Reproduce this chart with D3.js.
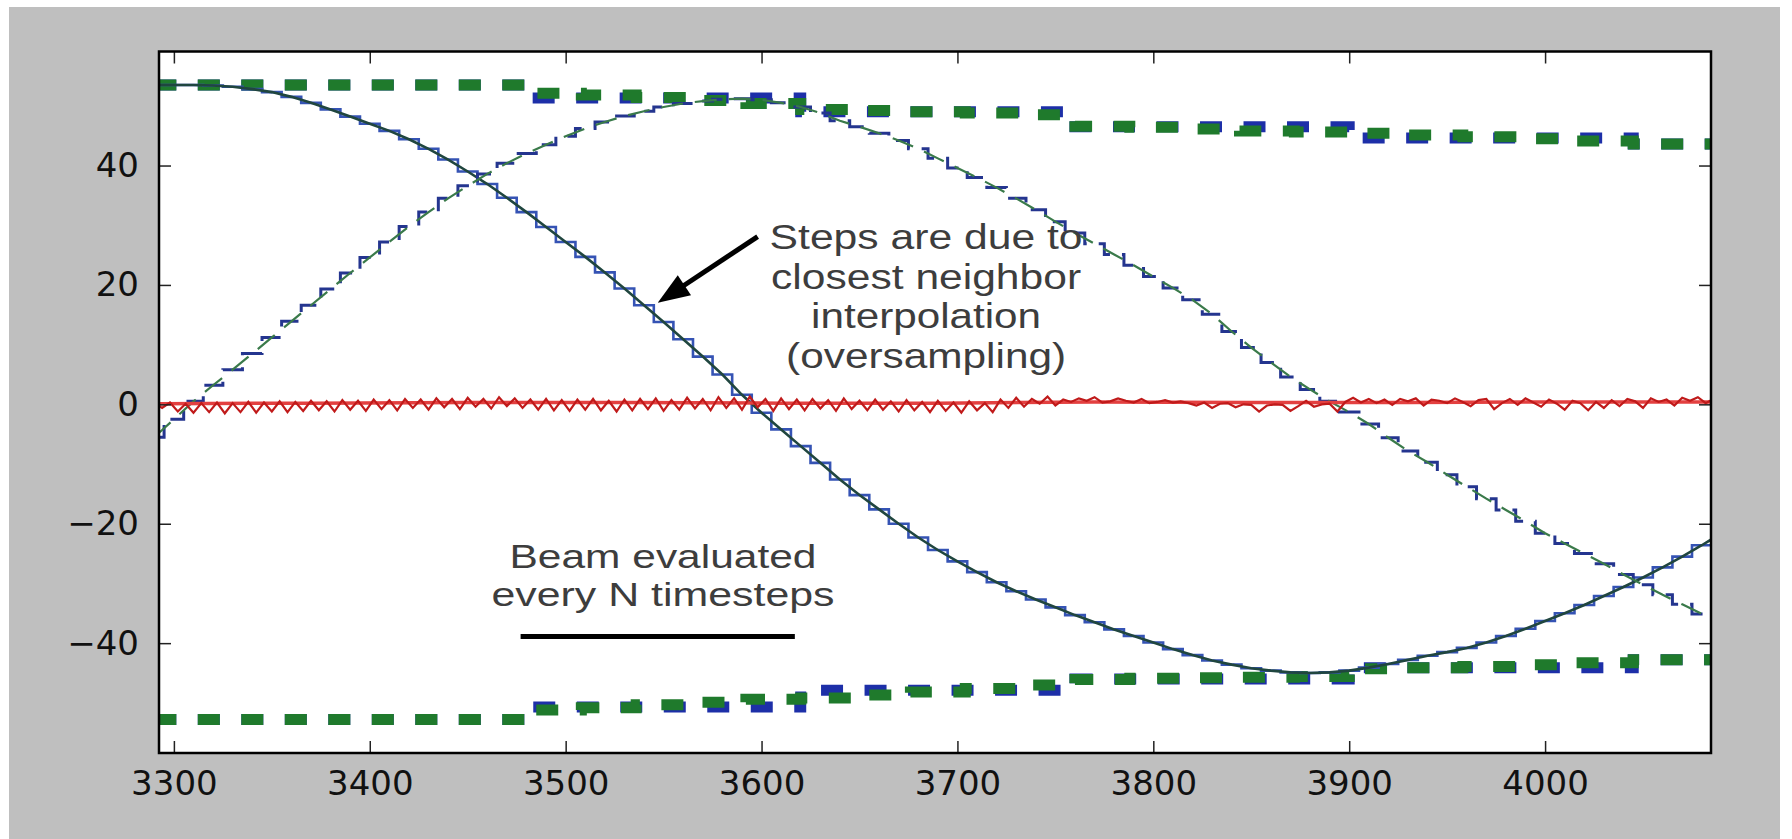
<!DOCTYPE html>
<html>
<head>
<meta charset="utf-8">
<script src="https://cdn.jsdelivr.net/npm/d3@7"></script>
<style>
  html, body { margin: 0; padding: 0; background: #ffffff; }
  svg { display: block; }
</style>
</head>
<body>
<svg id="chart" width="1792" height="839"></svg>
<script>
// ---------------------------------------------------------------
// Beam steering angle (degrees) versus timestep
// ---------------------------------------------------------------

// Timesteps of the fine tracks (every 10 steps)
const trackTime = [
  3290, 3300, 3310, 3320, 3330, 3340, 3350, 3360, 3370, 3380,
  3390, 3400, 3410, 3420, 3430, 3440, 3450, 3460, 3470, 3480,
  3490, 3500, 3510, 3520, 3530, 3540, 3550, 3560, 3570, 3580,
  3590, 3600, 3610, 3620, 3630, 3640, 3650, 3660, 3670, 3680,
  3690, 3700, 3710, 3720, 3730, 3740, 3750, 3760, 3770, 3780,
  3790, 3800, 3810, 3820, 3830, 3840, 3850, 3860, 3870, 3880,
  3890, 3900, 3910, 3920, 3930, 3940, 3950, 3960, 3970, 3980,
  3990, 4000, 4010, 4020, 4030, 4040, 4050, 4060, 4070, 4080, 4090
];

// Source A direction (solid)
const sourceA = [
  53.5, 53.5, 53.5, 53.4, 53.2, 52.8, 52.3, 51.5, 50.5, 49.4,
  48.2, 47.0, 45.8, 44.4, 42.8, 41.0, 39.0, 36.9, 34.6, 32.2,
  29.7, 27.2, 24.7, 22.1, 19.4, 16.6, 13.8, 10.9, 8.0, 5.0,
  1.6, -1.4, -4.2, -7.0, -9.8, -12.6, -15.2, -17.6, -20.0, -22.3,
  -24.4, -26.3, -28.1, -29.8, -31.3, -32.7, -34.0, -35.3, -36.5, -37.7,
  -38.8, -39.9, -41.0, -42.0, -42.9, -43.6, -44.2, -44.6, -44.9, -45.0,
  -44.9, -44.6, -44.1, -43.5, -42.8, -42.1, -41.5, -40.8, -39.9, -38.8,
  -37.6, -36.3, -35.0, -33.6, -32.1, -30.6, -29.0, -27.3, -25.5, -23.6, -21.6
];

// Source B direction (thin dashed)
const sourceB = [
  -5.5, -2.5, 0.5, 3.2, 5.8, 8.5, 11.2, 13.9, 16.6, 19.3,
  22.0, 24.6, 27.2, 29.8, 32.2, 34.5, 36.6, 38.6, 40.4, 42.0,
  43.5, 44.9, 46.2, 47.3, 48.3, 49.1, 49.8, 50.4, 50.8, 51.1,
  51.2, 51.0, 50.5, 49.8, 48.8, 47.5, 46.5, 45.4, 44.2, 42.8,
  41.2, 39.6, 38.0, 36.3, 34.5, 32.6, 30.6, 28.7, 26.9, 25.1,
  23.3, 21.4, 19.5, 17.5, 15.1, 12.2, 9.5, 7.0, 4.6, 2.5,
  0.5, -1.3, -3.3, -5.6, -7.8, -9.7, -11.8, -13.8, -15.8, -17.7,
  -19.6, -21.6, -23.3, -25.0, -26.7, -28.5, -30.2, -31.9, -33.5, -35.1, -36.7
];

// Beam edges, held between beam evaluations (every N timesteps)
const beamTime  = [3290, 3480, 3620, 3760, 3900, 4045, 4100];
const upperHeld = [53.5, 51.3, 49.0, 46.5, 44.6, 43.6, 43.6];
const lowerHeld = [-52.8, -50.7, -47.9, -46.0, -44.1, -42.8, -42.8];

// Beam edges, updated in sub-steps
const subTime = [
  3290, 3480, 3508, 3536, 3564, 3592, 3620, 3648, 3676, 3704, 3732,
  3760, 3788, 3816, 3844, 3872, 3900, 3929, 3958, 3987, 4016, 4045, 4100
];
const upperSub = [
  53.5, 52.1, 51.8, 51.4, 50.9, 50.4, 49.4, 49.2, 49.0, 48.8, 48.5,
  46.6, 46.4, 46.1, 45.8, 45.6, 45.4, 45.1, 44.8, 44.5, 44.1, 43.6, 43.6
];
const lowerSub = [
  -52.8, -51.2, -50.8, -50.3, -49.9, -49.4, -49.2, -48.7, -48.2, -47.6, -47.0,
  -46.1, -45.9, -45.8, -45.7, -45.6, -44.3, -44.1, -43.9, -43.6, -43.3, -42.8, -42.8
];

// Tracking error (every 4 steps, from 3290)
const errStart = 3290, errStep = 4;
const trackError = [
  0.2, -0.6, 0.3, -1.2, 0.1, -1.4, 0.2, -1.3, 0.3, -1.5,
  0.2, -1.3, 0.4, -1.4, 0.3, -1.2, 0.5, -1.3, 0.4, -1.1,
  0.6, -1.0, 0.5, -1.2, 0.7, -0.9, 0.6, -1.1, 0.8, -0.8,
  0.7, -1.0, 0.9, -0.6, 0.8, -0.9, 1.0, -0.5, 0.9, -0.8,
  1.1, -0.4, 0.9, -0.7, 1.2, -0.3, 1.0, -0.6, 0.8, -0.9,
  0.9, -1.0, 0.7, -1.1, 0.8, -0.9, 0.9, -1.0, 0.6, -1.2,
  0.8, -1.0, 0.9, -0.8, 1.0, -1.1, 0.7, -0.9, 1.1, -0.7,
  0.9, -1.0, 1.2, -0.6, 1.0, -0.9, 1.3, -0.5, 0.9, -1.1,
  1.0, -0.8, 0.8, -1.0, 0.9, -0.7, 0.7, -1.1, 1.0, -0.8,
  0.6, -1.0, 0.8, -0.9, 0.5, -1.2, 0.7, -1.0, 0.4, -1.3,
  0.6, -1.1, 0.3, -1.4, 0.5, -1.0, 0.2, -1.3, 0.8, -0.6,
  1.1, -0.4, 0.9, 0.1, 1.3, -0.2, 0.8, 0.4, 1.0, 0.6,
  1.2, 0.3, 0.5, 1.0, 0.6, 0.3, 0.9, 0.2, 0.4, 0.7,
  0.3, 0.5, 0.2, -0.2, 0.3, -0.6, 0.1, 0.2, -0.5, 0.0,
  -0.1, -1.2, -0.2, 0.0, -0.1, -1.1, -0.3, 0.6, -0.4, 0.0,
  0.1, -1.2, 0.4, 1.1, 0.3, 0.9, 0.2, 0.8, -0.1, 0.9,
  0.5, 1.0, -0.2, 0.8, 0.6, 0.2, 1.0, 0.4, -0.3, 0.7,
  0.9, -0.8, 0.2, 0.9, -0.1, 1.0, 0.3, -0.4, 0.8, 0.1,
  -0.9, 0.6, 0.2, -1.0, 0.4, -0.6, 0.7, -0.3, 0.9, 0.5,
  -0.6, 1.0, 0.4, 0.8, -0.2, 1.1, 0.6, 1.2, 0.2, 0.9,
  0.4
];
// Smoothed error
const smoothErrTime = [3290, 3370, 3450, 3530, 3610, 3690, 3770, 3850, 3930, 4010, 4090];
const smoothErr     = [0.1, 0.2, 0.3, 0.3, 0.2, 0.2, 0.4, 0.3, 0.3, 0.4, 0.4];

// Axis ticks
const xTicks = [3300, 3400, 3500, 3600, 3700, 3800, 3900, 4000];
const xTickLabels = ["3300", "3400", "3500", "3600", "3700", "3800", "3900", "4000"];
const yTicks = [-40, -20, 0, 20, 40];
const yTickLabels = ["\u221240", "\u221220", "0", "20", "40"];

// Annotations
const noteSteps = ["Steps are due to", "closest neighbor", "interpolation", "(oversampling)"];
const noteBeam = ["Beam evaluated", "every N timesteps"];
const beamPeriod = [3477, 3617];   // one evaluation interval (N timesteps)
const beamPeriodLevel = -38.9;
const arrowTip = [3547, 17.0];
const arrowTail = [3598, 28.1];
const noteStepsAt = [3684, 26.0];
const noteBeamAt = [3549.7, -27.4];

// ---------------------------------------------------------------
const W = 1792, H = 839;
const plot = { left: 159, right: 1711, top: 51.5, bottom: 753 };

const x = d3.scaleLinear().domain([3292.4, 4084.7]).range([plot.left, plot.right]);
const y = d3.scaleLinear().domain([-58.4, 59.1]).range([plot.bottom, plot.top]);

const svg = d3.select("#chart");

// figure background
svg.append("rect").attr("x", 9).attr("y", 7).attr("width", 1771).attr("height", H - 7)
  .attr("fill", "#bfbfbf");
// axes background
svg.append("rect").attr("x", plot.left).attr("y", plot.top)
  .attr("width", plot.right - plot.left).attr("height", plot.bottom - plot.top)
  .attr("fill", "#ffffff");

svg.append("clipPath").attr("id", "plotClip")
  .append("rect").attr("x", plot.left).attr("y", plot.top)
  .attr("width", plot.right - plot.left).attr("height", plot.bottom - plot.top);

const g = svg.append("g").attr("clip-path", "url(#plotClip)");

const zip = (ts, vs) => ts.map((t, i) => [t, vs[i]]);
const lineLinear = d3.line().x(d => x(d[0])).y(d => y(d[1]));
const lineStepAfter = d3.line().x(d => x(d[0])).y(d => y(d[1])).curve(d3.curveStepAfter);
const lineNearest = d3.line().x(d => x(d[0])).y(d => y(d[1])).curve(d3.curveStep);

function draw(path, data, color, width, dash) {
  const p = g.append("path").attr("d", path(data))
    .attr("fill", "none").attr("stroke", color).attr("stroke-width", width)
    .attr("stroke-linejoin", "miter").attr("stroke-linecap", "butt");
  if (dash) p.attr("stroke-dasharray", dash);
  return p;
}

const colBlue = "#1d2fa8", colGreen = "#1f7a2c";
const thickDash = "22 21.5";
const thinDash = "22 12";

// beam edges
draw(lineStepAfter, zip(beamTime, upperHeld), colBlue, 11, thickDash);
draw(lineStepAfter, zip(beamTime, lowerHeld), colBlue, 11, thickDash);
draw(lineStepAfter, zip(subTime, upperSub), colGreen, 11, thickDash);
draw(lineStepAfter, zip(subTime, lowerSub), colGreen, 11, thickDash);

// source A: nearest-neighbour beam and its smooth track
draw(lineNearest, zip(trackTime, sourceA), "#3553b4", 2.6);
draw(lineLinear, zip(trackTime, sourceA), "#20463f", 2.6);

// source B: nearest-neighbour beam and its smooth track
draw(lineNearest, zip(trackTime, sourceB), "#24358f", 3, thinDash);
draw(lineLinear, zip(trackTime, sourceB), "#3a7a4a", 2.2, thinDash);

// tracking error
draw(lineLinear, zip(smoothErrTime, smoothErr), "#e34040", 3.5);
draw(lineLinear, trackError.map((v, i) => [errStart + i * errStep, v]), "#c01a1a", 2.2);

// ---- axes ----
const tickFont = "'DejaVu Sans', 'Noto Sans', sans-serif";
const xAxisB = d3.axisBottom(x).tickValues(xTicks).tickFormat((d, i) => xTickLabels[i])
  .tickSizeInner(-12).tickSizeOuter(0).tickPadding(18);
const xAxisT = d3.axisTop(x).tickValues(xTicks).tickFormat("")
  .tickSizeInner(-12).tickSizeOuter(0);
const yAxisL = d3.axisLeft(y).tickValues(yTicks).tickFormat((d, i) => yTickLabels[i])
  .tickSizeInner(-12).tickSizeOuter(0).tickPadding(20);
const yAxisR = d3.axisRight(y).tickValues(yTicks).tickFormat("")
  .tickSizeInner(-12).tickSizeOuter(0);

function styleAxis(sel) {
  sel.select(".domain").remove();
  sel.selectAll(".tick line").attr("stroke", "#222").attr("stroke-width", 1.5);
  sel.selectAll(".tick text").attr("fill", "#111")
    .style("font-family", tickFont).style("font-size", "34px");
}
svg.append("g").attr("transform", `translate(0,${plot.bottom})`).call(xAxisB).call(styleAxis);
svg.append("g").attr("transform", `translate(0,${plot.top})`).call(xAxisT).call(styleAxis);
svg.append("g").attr("transform", `translate(${plot.left},0)`).call(yAxisL).call(styleAxis);
svg.append("g").attr("transform", `translate(${plot.right},0)`).call(yAxisR).call(styleAxis);

// frame
svg.append("rect").attr("x", plot.left).attr("y", plot.top)
  .attr("width", plot.right - plot.left).attr("height", plot.bottom - plot.top)
  .attr("fill", "none").attr("stroke", "#000").attr("stroke-width", 2.5);

// ---- annotations ----
const noteFont = "'Liberation Sans', Arial, sans-serif";
const noteColor = "#3d3d3d";

// multi-line centred note; each line is widened to the width it is set at
function note(lines, at, size, gap, widths) {
  const cx = x(at[0]), y0 = y(at[1]);
  lines.forEach((s, i) => {
    svg.append("text")
      .attr("x", cx).attr("y", y0 + i * gap)
      .attr("text-anchor", "middle").attr("fill", noteColor)
      .attr("textLength", widths[i]).attr("lengthAdjust", "spacingAndGlyphs")
      .style("font-family", noteFont).style("font-size", size + "px")
      .text(s);
  });
}
note(noteSteps, noteStepsAt, 35, 39.6, [313, 310, 230, 280]);
note(noteBeam, noteBeamAt, 34, 38.5, [307, 343]);

// bar showing one evaluation interval
svg.append("line")
  .attr("x1", x(beamPeriod[0])).attr("x2", x(beamPeriod[1]))
  .attr("y1", y(beamPeriodLevel)).attr("y2", y(beamPeriodLevel))
  .attr("stroke", "#000").attr("stroke-width", 5);

// arrow
(function () {
  const p0 = [x(arrowTail[0]), y(arrowTail[1])];
  const p1 = [x(arrowTip[0]), y(arrowTip[1])];
  const dx = p1[0] - p0[0], dy = p1[1] - p0[1];
  const len = Math.hypot(dx, dy);
  const u = [dx / len, dy / len], n = [-u[1], u[0]];
  const headLen = 32, headW = 24;
  const base = [p1[0] - u[0] * headLen, p1[1] - u[1] * headLen];
  svg.append("line")
    .attr("x1", p0[0]).attr("y1", p0[1]).attr("x2", base[0] + u[0] * 2).attr("y2", base[1] + u[1] * 2)
    .attr("stroke", "#000").attr("stroke-width", 5);
  svg.append("polygon")
    .attr("points", [
      p1,
      [base[0] + n[0] * headW / 2, base[1] + n[1] * headW / 2],
      [base[0] - n[0] * headW / 2, base[1] - n[1] * headW / 2]
    ].map(p => p.join(",")).join(" "))
    .attr("fill", "#000");
})();
</script>
</body>
</html>
